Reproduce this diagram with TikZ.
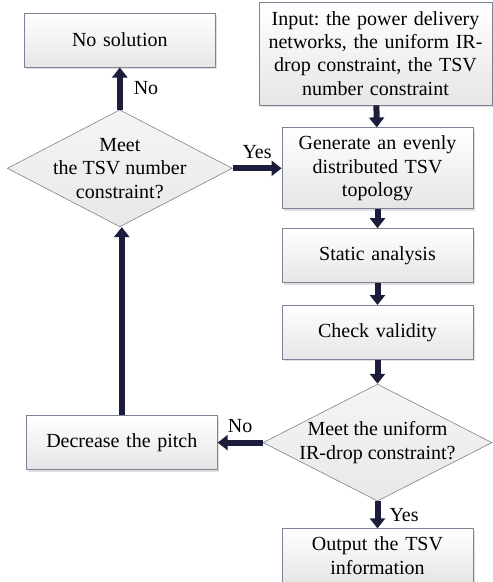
\documentclass[tikz,border=0pt]{standalone}
\usepackage{fontspec}
\setmainfont{Liberation Serif}
\usepackage{tikz}
\usetikzlibrary{arrows.meta, positioning, shapes.geometric, shadows}
\frenchspacing
\definecolor{navy}{RGB}{27,29,59}
\definecolor{edge}{RGB}{128,128,150}
\tikzset{%
	box/.style={draw=edge, line width=0.8pt, rectangle, minimum width=191pt, minimum height=54pt,%
		text width=180pt, align=center, top color=white, bottom color=black!10,%
		drop shadow={shadow xshift=2pt, shadow yshift=-2pt, opacity=0.25}},
	cond/.style={draw=edge, line width=0.6pt, diamond, inner sep=0pt, minimum width=225pt,%
		minimum height=117pt, top color=black!4, bottom color=black!9},
	flow/.style={-{Triangle[width=15pt, length=10pt]}, line width=6pt, draw=navy, fill=navy},
	lbl/.style={text=black, inner sep=1pt}
}
\begin{document}
\begin{tikzpicture}[x=1pt, y=-1pt, font=\fontsize{20pt}{23.3pt}\selectfont]
	\useasboundingbox (0,0) rectangle (493,582);
	\node[box, minimum width=233pt, minimum height=103pt, text width=226pt] (input) at (375.5,53.5)
		{Input: the power delivery\\networks, the uniform IR-\\drop constraint, the TSV\\number constraint};
	\node[box, minimum height=81pt, below=22pt of input, xshift=2pt] (gen)
		{Generate an evenly\\distributed TSV\\topology};
	\node[box, below=19pt of gen] (stat) {Static analysis};
	\node[box, below=22pt of stat] (check) {Check validity};
	\node[cond, minimum width=229pt, below=24pt of check,
		label={[align=center]center:Meet the uniform\\IR-drop constraint?}] (meet2) {};
	\node[box, below=27pt of meet2] (out) {Output the TSV\\information};
	
	\node[cond, left=49pt of gen,
		label={[align=center]center:Meet\\the TSV number\\constraint?}] (meet1) {};
	\node[box, above=42pt of meet1] (nosol) {No solution};
	\node[box, left=45pt of meet2] (dec) {Decrease the pitch};
	
	\draw[flow] (input) -- (gen);
	\draw[flow] (gen) -- (stat);
	\draw[flow] (stat) -- (check);
	\draw[flow] (check) -- (meet2.north);
	\draw[flow] (meet2.south) -- node[lbl, right=8pt]{Yes} (out);
	\draw[flow] (meet2.west) -- node[lbl, above=6pt]{No} (dec.east);
	\draw[flow] (dec.north) -- (dec.north |- meet1.south);
	\draw[flow] (meet1.north) -- node[lbl, right=10pt]{No} (meet1.north |- nosol.south);
	\draw[flow] (meet1.east) -- node[lbl, above=6pt]{Yes} (gen.west);
\end{tikzpicture}
\end{document}
